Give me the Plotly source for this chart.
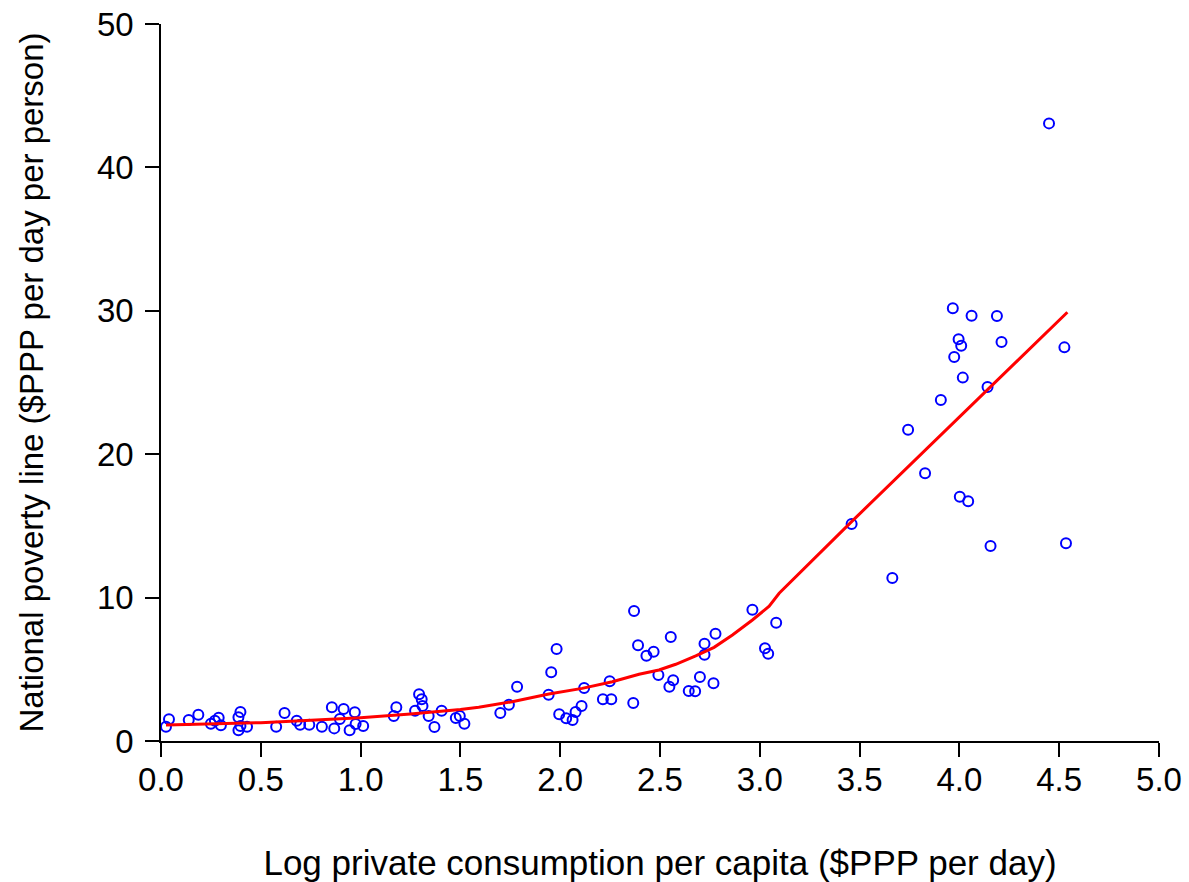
import plotly.graph_objects as go

# Scatter data: log private consumption per capita vs national poverty line
log_consumption = [
    0.025, 0.04, 0.139, 0.187, 0.25, 0.27, 0.289, 0.30, 0.388, 0.398, 0.388, 0.398, 0.431,
    0.577, 0.619, 0.68, 0.697, 0.743, 0.806, 0.856, 0.868, 0.896, 0.915, 0.945, 0.971, 0.975,
    1.013, 1.166, 1.179, 1.273, 1.293, 1.306, 1.31, 1.341, 1.37, 1.406, 1.477, 1.497, 1.52,
    1.70, 1.743, 1.784, 1.942, 1.955, 1.982, 1.995, 2.03, 2.062, 2.077, 2.107, 2.12, 2.214,
    2.256, 2.248, 2.366, 2.37, 2.39, 2.432, 2.468, 2.492, 2.554, 2.547, 2.566, 2.644, 2.676,
    2.70, 2.723, 2.723, 2.768, 2.778, 2.963, 3.026, 3.042, 3.082, 3.46, 3.664, 3.743, 3.828,
    3.907, 3.967, 3.974, 3.996, 4.002, 4.009, 4.017, 4.044, 4.061, 4.141, 4.156, 4.188, 4.211,
    4.449, 4.526, 4.534,
]
poverty_line = [
    1.0, 1.51, 1.46, 1.83, 1.21, 1.42, 1.63, 1.09, 1.65, 2.02, 0.75, 1.05, 1.0,
    1.0, 1.95, 1.42, 1.14, 1.14, 1.0, 2.35, 0.88, 1.53, 2.23, 0.75, 2.0, 1.19,
    1.05, 1.74, 2.35, 2.11, 3.26, 2.91, 2.44, 1.74, 0.98, 2.11, 1.60, 1.74, 1.21,
    1.95, 2.53, 3.79, 3.23, 4.79, 6.42, 1.86, 1.58, 1.46, 2.02, 2.44, 3.70, 2.91,
    2.91, 4.16, 2.65, 9.07, 6.67, 5.95, 6.23, 4.60, 7.25, 3.79, 4.23, 3.49, 3.47,
    4.46, 6.79, 6.02, 4.02, 7.48, 9.16, 6.46, 6.09, 8.25, 15.13, 11.37, 21.71, 18.67,
    23.78, 30.17, 26.78, 28.01, 17.04, 27.57, 25.34, 16.72, 29.66, 24.69, 13.6, 29.64, 27.82,
    43.07, 27.45, 13.79,
]

# Fitted curve
fit_x = [0.025, 0.5, 1.0, 1.25, 1.5, 1.592, 1.759, 1.943, 2.11, 2.261, 2.395, 2.495, 2.579,
         2.679, 2.771, 2.863, 2.963, 3.047, 3.097, 3.46, 4.541]
fit_y = [1.12, 1.28, 1.63, 1.88, 2.2, 2.35, 2.74, 3.28, 3.67, 4.13, 4.65, 4.95, 5.35,
         5.93, 6.53, 7.39, 8.44, 9.4, 10.3, 15.3, 29.9]

x_ticks = [0.0, 0.5, 1.0, 1.5, 2.0, 2.5, 3.0, 3.5, 4.0, 4.5, 5.0]
y_ticks = [0, 10, 20, 30, 40, 50]

FONT = "Liberation Sans, Arial, sans-serif"

fig = go.Figure()
fig.add_trace(go.Scatter(
    x=log_consumption, y=poverty_line, mode="markers",
    marker=dict(symbol="circle-open", size=10, color="#0000ff", line=dict(width=2, color="#0000ff")),
    showlegend=False, cliponaxis=False,
))
fig.add_trace(go.Scatter(
    x=fit_x, y=fit_y, mode="lines",
    line=dict(color="#ff0000", width=3),
    showlegend=False,
))

fig.update_layout(
    width=1189, height=882,
    margin=dict(l=161, r=30, t=24, b=141),
    paper_bgcolor="white", plot_bgcolor="white",
    font=dict(family=FONT, size=33, color="black"),
    xaxis=dict(
        range=[0, 5], tickvals=x_ticks, ticktext=[f"{v:.1f}" for v in x_ticks],
        showgrid=False, zeroline=False, showline=True, linecolor="black", linewidth=1.5,
        ticks="outside", ticklen=14, tickwidth=1.5, tickcolor="black",
        tickfont=dict(size=33), ticklabelstandoff=-5, automargin=False,
        title=dict(text="Log private consumption per capita ($PPP per day)", font=dict(size=35), standoff=54),
    ),
    yaxis=dict(
        range=[0, 50], tickvals=y_ticks,
        showgrid=False, zeroline=False, showline=True, linecolor="black", linewidth=1.5,
        ticks="outside", ticklen=14, tickwidth=1.5, tickcolor="black",
        tickfont=dict(size=33), ticklabelstandoff=5, automargin=False,
        title=dict(text="National poverty line ($PPP per day per person)", font=dict(size=33), standoff=43),
    ),
)

fig.write_html("out.html")
